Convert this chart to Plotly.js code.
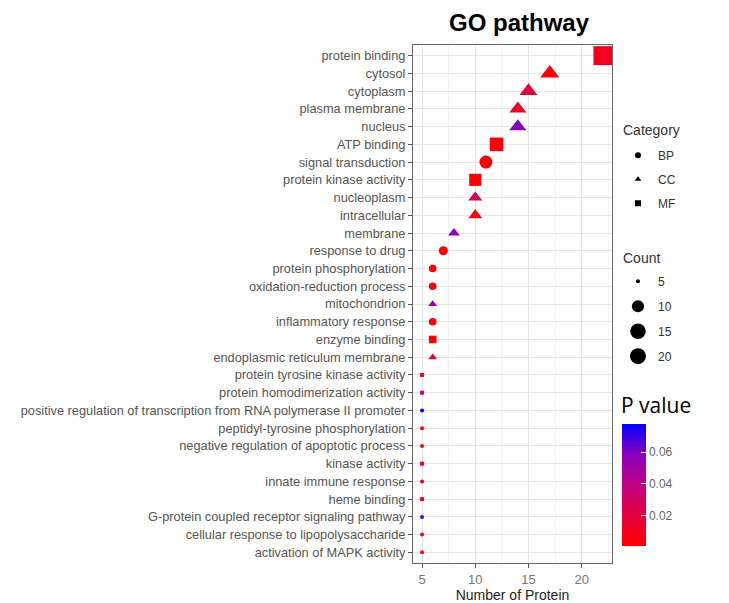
<!DOCTYPE html>
<html>
<head>
<meta charset="utf-8">
<script src="https://cdn.plot.ly/plotly-3.0.1.min.js"></script>
<style>html,body{margin:0;padding:0;background:#fff;}#chart{width:729px;height:603px;}</style>
</head>
<body>
<div id="chart"></div>
<script>
// ---- data (top row first) ----
const terms = [
  "protein binding","cytosol","cytoplasm","plasma membrane","nucleus","ATP binding",
  "signal transduction","protein kinase activity","nucleoplasm","intracellular","membrane",
  "response to drug","protein phosphorylation","oxidation-reduction process","mitochondrion",
  "inflammatory response","enzyme binding","endoplasmic reticulum membrane",
  "protein tyrosine kinase activity","protein homodimerization activity",
  "positive regulation of transcription from RNA polymerase II promoter",
  "peptidyl-tyrosine phosphorylation","negative regulation of apoptotic process",
  "kinase activity","innate immune response","heme binding",
  "G-protein coupled receptor signaling pathway","cellular response to lipopolysaccharide",
  "activation of MAPK activity"
];
const counts = [22,17,15,14,14,12,11,10,10,10,8,7,6,6,6,6,6,6,5,5,5,5,5,5,5,5,5,5,5];
const categories = ["MF","CC","CC","CC","CC","MF","BP","MF","CC","CC","CC","BP","BP","BP","CC",
  "BP","MF","CC","MF","MF","BP","BP","BP","MF","BP","MF","BP","BP","BP"];
const pvalues = [0.010,0.004,0.020,0.012,0.058,0.001,0.003,0.002,0.028,0.004,0.055,0.003,0.002,
  0.003,0.055,0.002,0.002,0.020,0.012,0.035,0.0775,0.010,0.008,0.012,0.010,0.014,0.065,0.010,0.010];
const categoryLegend = ["BP","CC","MF"];
const countLegend = [5,10,15,20];
const xTicks = [5,10,15,20];
const colorTicks = [0.02,0.04,0.06];

// ---- scales ----
const symbolOf = {BP:"circle", CC:"triangle-up", MF:"square"};
const cMin = Math.min(...counts), cMax = Math.max(...counts);
function sizeOf(c){ return 4 + 15*Math.sqrt(Math.max(0,(c-cMin))/(cMax-cMin)); }
const pMin = 0.001, pMax = 0.0775;
const colorscale = [[0,"#ff0000"],[0.25,"#e4003f"],[0.5,"#c00082"],[0.75,"#8a00c0"],[1,"#0000ff"]];

const traces = [];
traces.push({
  type:"scatter", mode:"markers", x:counts, y:terms, showlegend:false, hoverinfo:"x+y",
  marker:{
    symbol:categories.map(c=>symbolOf[c]),
    size:counts.map(sizeOf), opacity:1,
    color:pvalues, colorscale:colorscale, cmin:pMin, cmax:pMax,
    line:{width:0},
    colorbar:{
      x:1.05, xanchor:"left", y:0.268, yanchor:"top", xpad:0, ypad:0,
      thickness:24, thicknessmode:"pixels", len:122, lenmode:"pixels",
      outlinewidth:0, tickvals:colorTicks, ticktext:colorTicks.map(v=>v.toFixed(2)),
      ticks:"inside", ticklen:5, tickcolor:"#ffffff",
      tickfont:{family:"Arial", size:12, color:"#666"},
      title:{text:""}
    }
  }
});
categoryLegend.forEach(c=>{
  traces.push({type:"scatter", mode:"markers", x:[null], y:[null], name:c, legend:"legend",
    legendgroup:"cat"+c, marker:{symbol:symbolOf[c], size:6, color:"#000", opacity:1}, hoverinfo:"skip"});
});
countLegend.forEach(c=>{
  traces.push({type:"scatter", mode:"markers", x:[null], y:[null], name:String(c), legend:"legend2",
    legendgroup:"cnt"+c, marker:{symbol:"circle", size:sizeOf(c), color:"#000", opacity:1}, hoverinfo:"skip"});
});

const font = "Arial";
const layout = {
  width:729, height:603,
  margin:{l:413, r:117, t:45, b:40},
  paper_bgcolor:"#fff", plot_bgcolor:"#fff",
  font:{family:font, size:11, color:"#4d4d4d"},
  title:{text:"<b>GO pathway</b>", x:0.712, xanchor:"center", y:0.963, yanchor:"middle",
    font:{family:font, size:24, color:"#000"}},
  xaxis:{
    range:[4.15,22.85], tickvals:xTicks, ticks:"outside", ticklen:4, tickcolor:"#555",
    showline:true, mirror:true, linecolor:"#666", linewidth:1,
    showgrid:true, gridcolor:"#e6e6e6", gridwidth:1, zeroline:false,
    minor:{dtick:2.5, tick0:0, showgrid:true, gridcolor:"#f3f3f3", gridwidth:1},
    tickfont:{family:font, size:13, color:"#777"},
    title:{text:"Number of Protein", standoff:2, font:{family:font, size:14, color:"#222"}}
  },
  yaxis:{
    type:"category", categoryorder:"array", categoryarray:terms,
    range:[28.6,-0.6], ticks:"outside", ticklen:4, tickcolor:"#555",
    showline:true, mirror:true, linecolor:"#666", linewidth:1,
    showgrid:true, gridcolor:"#e6e6e6", gridwidth:1,
    tickfont:{family:font, size:12.8, color:"#555"}
  },
  legend:{
    x:1.03, xanchor:"left", y:0.815, yanchor:"top",
    font:{family:font, size:12, color:"#333"}, tracegroupgap:5, traceorder:"grouped",
    bgcolor:"rgba(0,0,0,0)"
  },
  legend2:{
    x:1.03, xanchor:"left", y:0.572, yanchor:"top",
    font:{family:font, size:12, color:"#333"}, tracegroupgap:6, traceorder:"grouped",
    bgcolor:"rgba(0,0,0,0)"
  },
  annotations:[
    {text:"Category", xref:"paper", yref:"paper", x:1.045, y:0.836, xanchor:"left", yanchor:"middle",
      showarrow:false, font:{family:font, size:14, color:"#333"}},
    {text:"Count", xref:"paper", yref:"paper", x:1.045, y:0.589, xanchor:"left", yanchor:"middle",
      showarrow:false, font:{family:font, size:14, color:"#333"}},
    {text:"P value", xref:"paper", yref:"paper", x:1.035, y:0.305, xanchor:"left", yanchor:"middle",
      showarrow:false, font:{family:"Open Sans, Noto Sans, sans-serif", size:21, color:"#000"}}
  ]
};
Plotly.newPlot("chart", traces, layout, {displayModeBar:false, staticPlot:true});
</script>
</body>
</html>
